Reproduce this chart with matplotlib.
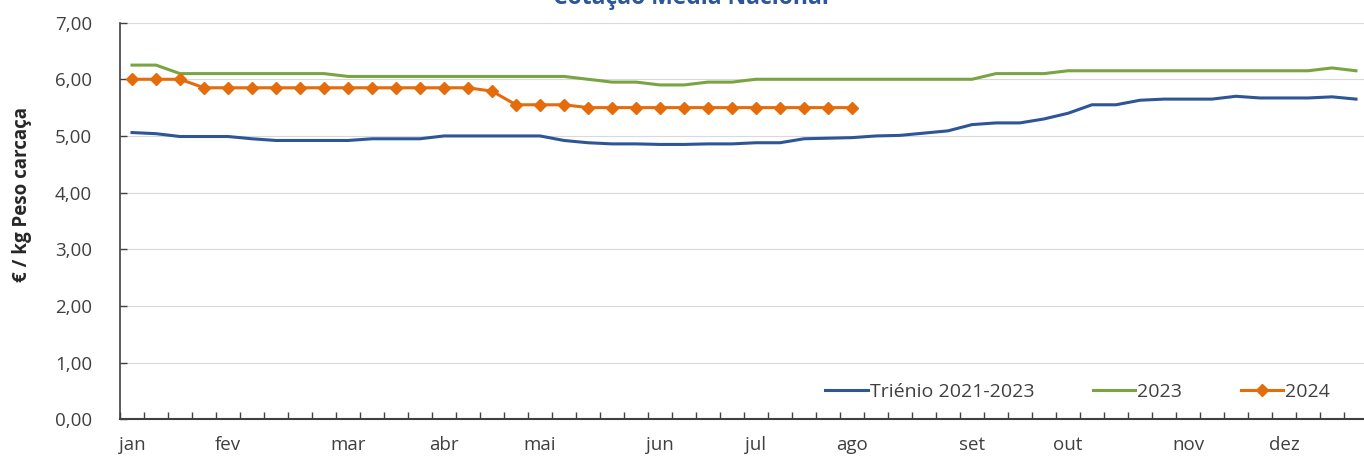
import matplotlib.pyplot as plt
import numpy as np

# semanas 1..52
semanas = list(range(52))

trienio = [5.06, 5.04, 4.99, 4.99, 4.99, 4.95, 4.92, 4.92, 4.92, 4.92,
           4.95, 4.95, 4.95, 5.00, 5.00, 5.00, 5.00, 5.00, 4.92, 4.88,
           4.86, 4.86, 4.85, 4.85, 4.86, 4.86, 4.88, 4.88, 4.95, 4.96,
           4.97, 5.00, 5.01, 5.05, 5.09, 5.20, 5.23, 5.23, 5.30, 5.40,
           5.55, 5.55, 5.63, 5.65, 5.65, 5.65, 5.70, 5.67, 5.67, 5.67,
           5.69, 5.65]

ano2023 = [6.25, 6.25, 6.10, 6.10, 6.10, 6.10, 6.10, 6.10, 6.10, 6.05,
           6.05, 6.05, 6.05, 6.05, 6.05, 6.05, 6.05, 6.05, 6.05, 6.00,
           5.95, 5.95, 5.90, 5.90, 5.95, 5.95, 6.00, 6.00, 6.00, 6.00,
           6.00, 6.00, 6.00, 6.00, 6.00, 6.00, 6.10, 6.10, 6.10, 6.15,
           6.15, 6.15, 6.15, 6.15, 6.15, 6.15, 6.15, 6.15, 6.15, 6.15,
           6.20, 6.15]

ano2024 = [6.00, 6.00, 6.00, 5.85, 5.85, 5.85, 5.85, 5.85, 5.85, 5.85,
           5.85, 5.85, 5.85, 5.85, 5.85, 5.79, 5.55, 5.55, 5.55, 5.50,
           5.50, 5.50, 5.50, 5.50, 5.50, 5.50, 5.50, 5.50, 5.50, 5.50,
           5.50]

meses = ['jan', 'fev', 'mar', 'abr', 'mai', 'jun', 'jul', 'ago', 'set', 'out', 'nov', 'dez']
meses_pos = [0, 4, 9, 13, 17, 22, 26, 30, 35, 39, 44, 48]

plt.rcParams['font.family'] = ['Open Sans', 'DejaVu Sans']
cinza = '#404040'
fs = 13.5

fig = plt.figure(figsize=(13.64, 4.59), dpi=100)
ax = fig.add_axes([120/1364, 1 - 419.3/459, 1248/1364, (419.3 - 22.6)/459])

ax.plot(semanas, trienio, color='#2E5597', lw=2.2, label='Triénio 2021-2023')
ax.plot(semanas, ano2023, color='#78A542', lw=2.2, label='2023')
ax.plot(semanas[:len(ano2024)], ano2024, color='#E46C0A', lw=2.2,
        marker='D', ms=6, label='2024')

ax.set_xlim(-0.5, 51.5)
ax.set_ylim(0, 7)
ax.set_yticks(np.arange(0, 7.01, 1))
ax.set_yticklabels(['{:.2f}'.format(v).replace('.', ',') for v in np.arange(0, 7.01, 1)],
                   fontsize=fs, color=cinza)
ax.yaxis.grid(True, color='#D9D9D9', lw=0.8)
ax.set_axisbelow(True)

ax.set_xticks(np.arange(-0.5, 52, 1))
ax.set_xticklabels([])
ax.tick_params(axis='x', direction='in', length=5, width=1, color='#404040')
ax.tick_params(axis='y', direction='in', length=5, width=1, color='#404040', pad=20)
for p, m in zip(meses_pos, meses):
    ax.text(p, -0.3, m, ha='center', va='top', fontsize=fs, color=cinza,
            transform=ax.transData)

for s in ['top', 'right']:
    ax.spines[s].set_visible(False)
ax.spines['left'].set_color('#404040')
ax.spines['bottom'].set_color('#404040')
ax.spines['left'].set_linewidth(1.2)
ax.spines['bottom'].set_linewidth(1.5)

fig.text(22/1364, 1 - 195/459, '€ / kg Peso carcaça', rotation=90, ha='center', va='center',
         fontsize=fs, fontweight='bold', color='#262626')

ax.legend(loc='center right', bbox_to_anchor=(1338/1364, 1 - 392/459),
          bbox_transform=fig.transFigure, ncol=3, frameon=False, borderaxespad=0,
          fontsize=14, handlelength=2.2, handletextpad=0.1, columnspacing=3.0,
          labelcolor=cinza)

fig.text(691/1364, 1 - 4/459, 'Cotação Média Nacional', ha='center', va='baseline',
         fontsize=16.5, fontweight='bold', color='#2E5597')

plt.savefig('out.png', dpi=100)
